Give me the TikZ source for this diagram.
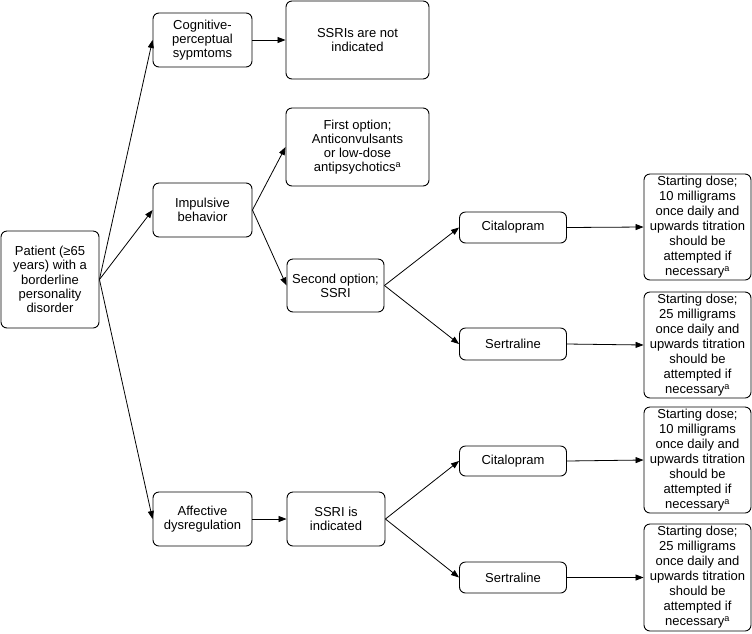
\documentclass[tikz,border=0pt]{standalone}
\usepackage{fontspec}
\setmainfont{Liberation Sans}
\usetikzlibrary{arrows.meta}
\begin{document}
\begin{tikzpicture}[x=1pt,y=-1pt,
  box/.style={draw, line width=0.9pt, rounded corners=6pt, align=center, inner sep=1pt,
    font=\fontsize{13}{14.2}\selectfont},
  dosebox/.style={box, font=\fontsize{13}{15}\selectfont},
  arr/.style={-{Triangle[length=8pt,width=6pt]}, line width=0.8pt}]
\useasboundingbox (0,0) rectangle (752,633);
\node[box, minimum width=98pt, minimum height=97pt] (patient) at (50,279.5) {Patient (≥65\\years) with a\\borderline\\personality\\disorder};
\node[box, minimum width=99pt, minimum height=54pt] (cog) at (202.5,40) {Cognitive-\\perceptual\\sypmtoms};
\node[box, minimum width=143pt, minimum height=78pt] (notind) at (357.5,40) {SSRIs are not\\indicated};
\node[box, minimum width=99pt, minimum height=54pt] (imp) at (202.5,210) {Impulsive\\behavior};
\node[box, minimum width=143pt, minimum height=78pt] (first) at (357.5,147) {First option;\\Anticonvulsants\\or low-dose\\antipsychotics\textsuperscript{a}};
\node[box, minimum width=97pt, minimum height=53pt] (second) at (335.5,285.5) {Second option;\\SSRI};
\node[box, minimum width=107pt, minimum height=31pt] (cit1) at (513,227.5) {Citalopram};
\node[box, minimum width=107pt, minimum height=32pt] (sert1) at (513,344) {Sertraline};
\node[dosebox, minimum width=107pt, minimum height=106pt] (dose1) at (697.5,227) {Starting dose;\\10 milligrams\\once daily and\\upwards titration\\should be\\attempted if\\necessary\textsuperscript{a}};
\node[dosebox, minimum width=107pt, minimum height=106pt] (dose2) at (697.5,345) {Starting dose;\\25 milligrams\\once daily and\\upwards titration\\should be\\attempted if\\necessary\textsuperscript{a}};
\node[box, minimum width=99pt, minimum height=54pt] (aff) at (202.5,519) {Affective\\dysregulation};
\node[box, minimum width=98pt, minimum height=54pt] (ssri) at (336,519) {SSRI is\\indicated};
\node[box, minimum width=107pt, minimum height=30pt] (cit2) at (513,461) {Citalopram};
\node[box, minimum width=107pt, minimum height=31pt] (sert2) at (513,577.5) {Sertraline};
\node[dosebox, minimum width=107pt, minimum height=106pt] (dose3) at (697.5,460) {Starting dose;\\10 milligrams\\once daily and\\upwards titration\\should be\\attempted if\\necessary\textsuperscript{a}};
\node[dosebox, minimum width=107pt, minimum height=107pt] (dose4) at (697.5,577.5) {Starting dose;\\25 milligrams\\once daily and\\upwards titration\\should be\\attempted if\\necessary\textsuperscript{a}};
\draw[arr] (patient.east) -- (cog.west);
\draw[arr] (patient.east) -- (imp.west);
\draw[arr] (patient.east) -- (aff.west);
\draw[arr] (cog.east) -- (notind.west);
\draw[arr] (imp.east) -- (first.west);
\draw[arr] (imp.east) -- (second.west);
\draw[arr] (second.east) -- (cit1.west);
\draw[arr] (second.east) -- (sert1.west);
\draw[arr] (cit1.east) -- (dose1.west);
\draw[arr] (sert1.east) -- (dose2.west);
\draw[arr] (aff.east) -- (ssri.west);
\draw[arr] (ssri.east) -- (cit2.west);
\draw[arr] (ssri.east) -- (sert2.west);
\draw[arr] (cit2.east) -- (dose3.west);
\draw[arr] (sert2.east) -- (dose4.west);
\end{tikzpicture}
\end{document}
